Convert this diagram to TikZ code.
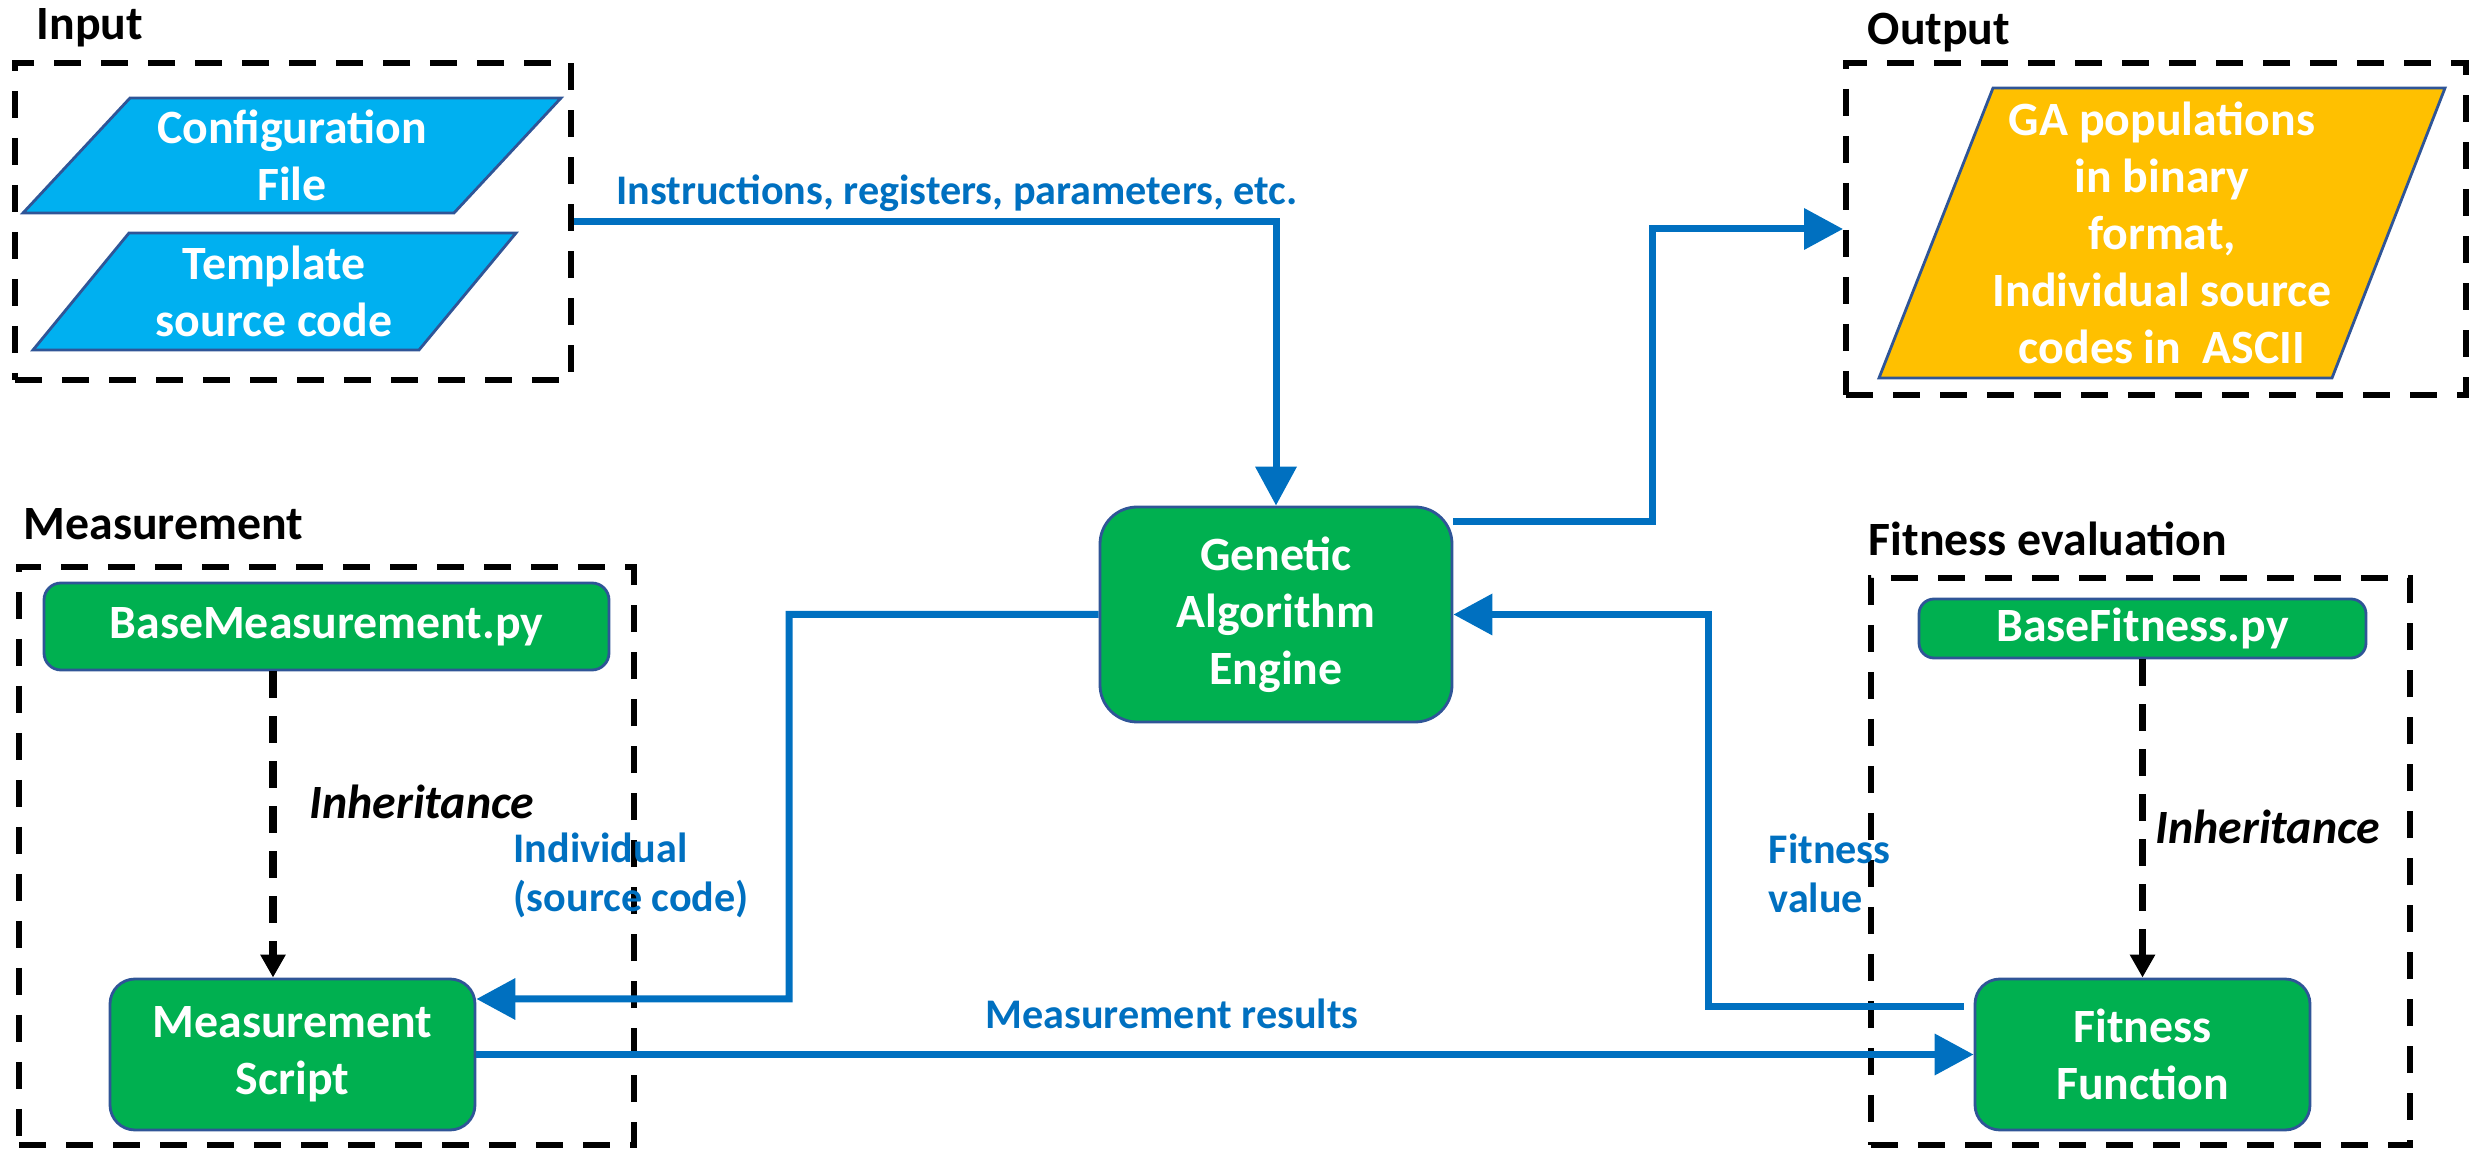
\documentclass[tikz,border=0pt]{standalone}
\usepackage{fontspec}
\setmainfont{Carlito}
\usepackage{tikz}
\usetikzlibrary{arrows.meta}

\definecolor{gagreen}{HTML}{00B050}
\definecolor{inblue}{HTML}{00B0F0}
\definecolor{outgold}{HTML}{FFC000}
\definecolor{edgeblue}{HTML}{2F5597}
\definecolor{flowblue}{HTML}{0070C0}

\begin{document}
\begin{tikzpicture}
	[x=0.1mm, y=-0.1mm, font=\fontsize{13.6}{16.2}\selectfont\bfseries,
	 group/.style = {draw, line width=0.6mm, dash pattern=on 2.7mm off 2mm, inner sep=0},
	 main/.style = {draw=edgeblue, fill=gagreen, text=white, line width=0.8pt, align=center, inner sep=0},
	 para/.style = {draw=edgeblue, line width=0.8pt},
	 flow/.style = {draw=flowblue, line width=0.7mm, -{Triangle[length=3.9mm,width=4mm]}},
	 inherit/.style = {line width=0.75mm, dash pattern=on 2.7mm off 1.8mm, -{Triangle[length=2.3mm,width=2.4mm]}},
	 lbl/.style = {text=flowblue, align=left, inner sep=0, font=\fontsize{12}{14}\selectfont\bfseries}]
	\useasboundingbox (0,0) rectangle (2483,1149);
	% dashed groups
	\node[group, minimum width=55.6mm, minimum height=31.7mm] (inbox) at (293,221.5) {};
	\node[group, minimum width=62mm, minimum height=33.2mm] (outbox) at (2156,229) {};
	\node[group, minimum width=61.5mm, minimum height=57.8mm] (msbox) at (326.5,856) {};
	\node[group, minimum width=53.9mm, minimum height=56.7mm] (fitbox) at (2140.5,861.5) {};
	\node[anchor=base west, inner sep=0] (intitle) at (36,40) {Input};
	\node[anchor=base west, inner sep=0] (outtitle) at (1867,45) {Output};
	\node[anchor=base west, inner sep=0] (mstitle) at (23,540) {Measurement};
	\node[anchor=base west, inner sep=0] (fittitle) at (1868,556) {Fitness evaluation};
	% input / output data
	\filldraw[para, fill=inblue] (130,98) -- (561,98) -- (454,213) -- (23,213) -- cycle;
	\filldraw[para, fill=inblue] (129,233) -- (516,233) -- (419,350) -- (33,350) -- cycle;
	\filldraw[para, fill=outgold] (1993,88) -- (2445,88) -- (2332,378) -- (1879,378) -- cycle;
	\node[text=white, align=center] (conf) at (292,155.5) {Configuration\\File};
	\node[text=white, align=center] (tmpl) at (274,291.5) {Template\\source code};
	\node[text=white, align=center] (pops) at (2162,233) {GA populations\\in binary\\format,\\Individual source\\codes in~ ASCII};
	% processes
	\node[main, minimum width=35.2mm, minimum height=21.5mm, rounded corners=3.7mm] (ga) at (1276,614.5) {Genetic\\Algorithm\\Engine};
	\node[main, minimum width=56.5mm, minimum height=8.7mm, rounded corners=1.7mm] (basems) at (326.5,626.5) {BaseMeasurement.py};
	\node[main, minimum width=36.5mm, minimum height=15.1mm, rounded corners=2.5mm] (msscript) at (292.5,1054.5) {Measurement\\Script};
	\node[main, minimum width=44.7mm, minimum height=5.9mm, rounded corners=1.5mm] (basefit) at (2142.5,628.5) {BaseFitness.py};
	\node[main, minimum width=33.5mm, minimum height=15.1mm, rounded corners=2.5mm] (fitfunc) at (2142.5,1054.5) {Fitness\\Function};
	% inheritance
	\coordinate (inhx) at (273,0);
	\draw[inherit] (basems.south -| inhx) -- (msscript.north -| inhx);
	\draw[inherit] (basefit) -- (fitfunc);
	\node[anchor=base west, inner sep=0, font=\fontsize{13.6}{16.2}\selectfont\bfseries\itshape] (inhl) at (309,819) {Inheritance};
	\node[anchor=base west, inner sep=0, font=\fontsize{13.6}{16.2}\selectfont\bfseries\itshape] (inhr) at (2155,844) {Inheritance};
	% data flow
	\coordinate (outturn) at (1652,0);
	\coordinate (indturn) at (789,999);
	\coordinate (fvturn) at (1708,0);
	\draw[flow] (inbox.east) -| (ga.north);
	\draw[flow] ([yshift=9.25mm]ga.east) -| (outturn |- outbox.west) -- (outbox.west);
	\draw[flow] (ga.west) -| (indturn) -- ([yshift=5.55mm]msscript.east);
	\draw[flow] (msscript) -- (fitfunc);
	\draw[flow] ([xshift=-1mm,yshift=4.75mm]fitfunc.west) -| (fvturn |- ga.east) -- (ga.east);
	\node[lbl, anchor=base] (instr) at (957,205) {Instructions, registers, parameters, etc.};
	\node[lbl, anchor=base west] (indiv) at (513,912) {Individual\\(source code)};
	\node[lbl, anchor=base] (mres) at (1172,1029) {Measurement results};
	\node[lbl, anchor=base west] (fval) at (1768,913) {Fitness\\value};
\end{tikzpicture}
\end{document}
